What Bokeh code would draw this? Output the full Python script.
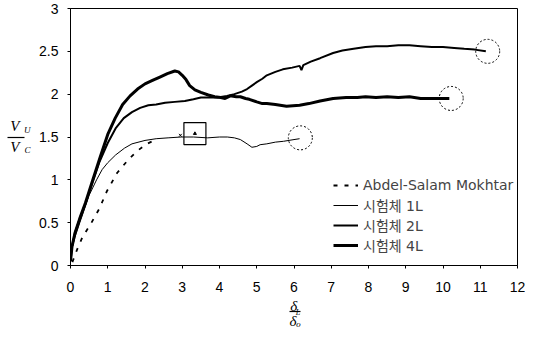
from bokeh.plotting import figure
from bokeh.models import Legend, LegendItem, FixedTicker, LinearAxis
from bokeh.embed import file_html
from bokeh.resources import INLINE

# ---- axis ticks ----
x_ticks = [0, 1, 2, 3, 4, 5, 6, 7, 8, 9, 10, 11, 12]
y_ticks = [0, 0.5, 1, 1.5, 2, 2.5, 3]
y_tick_labels = ["0", "0.5", "1", "1.5", "2", "2.5", "3"]

# ---- series ----
mokhtar_x = [0.05, 0.19, 0.32, 0.55, 0.77, 0.98, 1.25, 1.56, 1.8, 2.05, 2.3]
mokhtar_y = [0.04, 0.2, 0.33, 0.49, 0.66, 0.87, 1.08, 1.24, 1.34, 1.42, 1.47]

s1_x = [0, 0.04, 0.12, 0.25, 0.5, 0.7, 0.85, 1.0, 1.21, 1.45, 1.65, 2.0, 2.3, 2.62, 2.97,
        3.3, 3.68, 4.0, 4.21, 4.4, 4.56, 4.74, 4.87, 5.0, 5.09, 5.27, 5.5, 5.72, 6.0, 6.15]
s1_y = [0.05, 0.2, 0.33, 0.5, 0.82, 1.0, 1.12, 1.2, 1.29, 1.37, 1.42, 1.46, 1.48, 1.49, 1.5,
        1.5, 1.49, 1.5, 1.5, 1.49, 1.47, 1.42, 1.38, 1.39, 1.41, 1.42, 1.44, 1.45, 1.47, 1.48]

s2_x = [0, 0.04, 0.12, 0.25, 0.4, 0.6, 0.77, 1.0, 1.21, 1.43, 1.65, 1.87, 2.09, 2.3, 2.54,
        2.8, 3.07, 3.3, 3.5, 3.75, 3.95, 4.2, 4.4, 4.6, 4.74, 4.87, 5.0, 5.15, 5.27, 5.5,
        5.7, 5.95, 6.15, 6.2, 6.25, 6.45, 6.7, 7.05, 7.3, 7.6, 7.92, 8.2, 8.5, 8.8, 9.1,
        9.4, 9.7, 10.0, 10.3, 10.57, 10.85, 11.15]
s2_y = [0.05, 0.22, 0.38, 0.55, 0.72, 0.98, 1.2, 1.43, 1.6, 1.72, 1.79, 1.84, 1.87, 1.88, 1.9,
        1.91, 1.92, 1.94, 1.96, 1.96, 1.96, 1.98, 2.0, 2.03, 2.06, 2.1, 2.14, 2.18, 2.22, 2.26,
        2.29, 2.31, 2.33, 2.28, 2.34, 2.38, 2.42, 2.48, 2.51, 2.53, 2.55, 2.56, 2.56, 2.57, 2.57,
        2.56, 2.55, 2.55, 2.54, 2.53, 2.52, 2.5]

s4_x = [0, 0.04, 0.12, 0.25, 0.4, 0.6, 0.8, 1.0, 1.2, 1.4, 1.6, 1.8, 2.0, 2.2, 2.4, 2.6,
        2.8, 2.9, 3.0, 3.1, 3.2, 3.34, 3.5, 3.7, 3.87, 4.03, 4.15, 4.29, 4.45, 4.56, 4.7,
        4.8, 5.0, 5.15, 5.27, 5.5, 5.8, 6.15, 6.4, 6.7, 7.05, 7.4, 7.7, 7.92, 8.2, 8.5,
        8.8, 9.1, 9.4, 9.7, 10.0, 10.17]
s4_y = [0.05, 0.22, 0.38, 0.55, 0.73, 1.0, 1.27, 1.53, 1.72, 1.88, 1.98, 2.06, 2.12, 2.16, 2.2, 2.24,
        2.27, 2.26, 2.22, 2.17, 2.1, 2.05, 2.02, 1.99, 1.97, 1.96, 1.95, 1.98, 1.97, 1.97, 1.95,
        1.94, 1.91, 1.89, 1.89, 1.88, 1.86, 1.87, 1.89, 1.92, 1.95, 1.96, 1.96, 1.97, 1.96, 1.97,
        1.96, 1.97, 1.95, 1.95, 1.95, 1.95]

# end-of-test circles and the square mark
end_x = [6.17, 10.22, 11.2]
end_y = [1.49, 1.95, 2.5]
square_x = [3.34]
square_y = [1.54]
cross_x = [2.95]
cross_y = [1.52]

legend_labels = ["Abdel-Salam Mokhtar", "시험체 1L", "시험체 2L", "시험체 4L"]

# axis-title pieces (text and where along the axis they sit)
ytitle_main = {1.63: "V", 1.38: "V"}
ytitle_sub = {1.58: "U", 1.35: "C"}
ytitle_bar_at = [1.5]
xtitle_upper = {5.99: "δ"}
xtitle_upper_sub = {6.11: "L"}
xtitle_lower = {6.03: "δ\u2092"}
xtitle_bar = (5.88, 6.17)

p = figure(width=525, height=331, x_range=(0, 12), y_range=(0, 3),
           output_backend="svg", toolbar_location=None,
           min_border_left=70, min_border_right=8, min_border_top=8, min_border_bottom=64)
p.grid.visible = False
p.outline_line_color = "black"
p.outline_line_width = 1
p.background_fill_color = "white"
p.border_fill_color = "white"

for ax in (p.xaxis[0], p.yaxis[0]):
    ax.axis_line_color = "black"
    ax.major_tick_line_color = "black"
    ax.minor_tick_line_color = None
    ax.major_tick_out = 3
    ax.major_tick_in = 0
    ax.major_label_text_font = "Liberation Sans"
    ax.major_label_text_font_size = "14px"
    ax.major_label_text_color = "black"

p.xaxis.ticker = FixedTicker(ticks=x_ticks)
p.yaxis.ticker = FixedTicker(ticks=y_ticks)
p.yaxis.major_label_overrides = {t: l for t, l in zip(y_ticks, y_tick_labels)}
p.xaxis.major_label_standoff = 13
p.yaxis.major_label_standoff = 9
# blank, tiny axis label used only as vertical room below the tick labels
p.xaxis.axis_label = " "
p.xaxis.axis_label_text_font_size = "1px"
p.xaxis.axis_label_standoff = 13

serif = "Liberation Serif"

def title_axis(side, labels, size, standoff, tick_in=0, bounds=None, line=False):
    ticks = list(labels.keys()) if isinstance(labels, dict) else list(labels)
    ax = LinearAxis(ticker=FixedTicker(ticks=ticks, minor_ticks=[]),
                    major_label_standoff=standoff,
                    major_tick_out=0, major_tick_in=tick_in,
                    major_tick_line_color="black" if tick_in else None,
                    major_tick_line_width=1.2,
                    minor_tick_line_color=None,
                    axis_line_color="black" if line else None,
                    axis_line_width=1.2,
                    major_label_text_font=serif,
                    major_label_text_font_style="italic",
                    major_label_text_font_size=size,
                    major_label_text_color="black")
    if isinstance(labels, dict):
        ax.major_label_overrides = labels
    else:
        ax.major_label_text_alpha = 0
        ax.major_label_text_font_size = "0px"
    if bounds is not None:
        ax.bounds = bounds
    p.add_layout(ax, side)
    return ax

# y title: V_U / V_C  (stacked outward from the y axis)
title_axis("left", ytitle_sub, "9px", 6)
title_axis("left", ytitle_main, "15px", 2)
title_axis("left", ytitle_bar_at, "0px", 0, tick_in=17)

# x title: δ_L / δ_o  (stacked downward from the x axis)
title_axis("below", xtitle_upper, "15px", -14, bounds=xtitle_bar, line=True)
title_axis("below", xtitle_upper_sub, "8px", -9)
title_axis("below", xtitle_lower, "15px", -7)

r_m = p.line(mokhtar_x, mokhtar_y, line_color="black", line_width=1.8, line_dash="4 7")
r1 = p.line(s1_x, s1_y, line_color="black", line_width=1)
r2 = p.line(s2_x, s2_y, line_color="black", line_width=2)
r4 = p.line(s4_x, s4_y, line_color="black", line_width=3)

p.scatter(end_x, end_y, marker="circle", size=24, fill_color=None,
          line_color="black", line_width=1, line_dash="2 2")
p.scatter(square_x, square_y, marker="square", size=22, fill_color=None,
          line_color="black", line_width=1.2)
p.scatter(square_x, square_y, marker="triangle", size=3, fill_color="black", line_color="black")
p.scatter(cross_x, cross_y, marker="x", size=4, line_color="black")

legend = Legend(items=[LegendItem(label=legend_labels[0], renderers=[r_m]),
                       LegendItem(label=legend_labels[1], renderers=[r1]),
                       LegendItem(label=legend_labels[2], renderers=[r2]),
                       LegendItem(label=legend_labels[3], renderers=[r4])],
                location=(263, 10), border_line_color=None, background_fill_alpha=0,
                padding=0, margin=0, spacing=0, glyph_width=25, glyph_height=20,
                label_height=20, label_standoff=5,
                label_text_font="DejaVu Sans, Noto Sans CJK KR", label_text_font_size="14px")
p.add_layout(legend)

open("out.html", "w").write(file_html(p, INLINE))
